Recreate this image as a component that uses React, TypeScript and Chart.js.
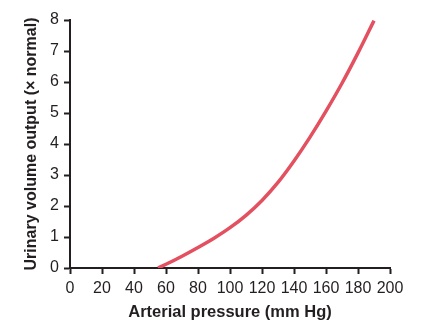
import React, { useEffect, useRef } from "react";
import { Chart, registerables } from "chart.js";

Chart.register(...registerables);

const pressure = [55, 60, 70, 80, 90, 100, 110, 120, 130, 140, 150, 160, 170, 180, 190];
const output = [0, 0.12, 0.38, 0.66, 0.96, 1.3, 1.7, 2.18, 2.76, 3.45, 4.22, 5.06, 5.96, 6.94, 7.98];

const xTitle = "Arterial pressure (mm Hg)";
const yTitle = "Urinary volume output (\u00d7 normal)";

export default function App() {
  const ref = useRef<HTMLCanvasElement>(null);
  useEffect(() => {
    if (!ref.current) return;
    const font = "'Liberation Sans', Arial, sans-serif";
    const chart = new Chart(ref.current, {
      type: "line",
      data: {
        datasets: [
          {
            data: pressure.map((p, i) => ({ x: p, y: output[i] })),
            borderColor: "#e3505f",
            borderWidth: 3.5,
            pointRadius: 0,
            tension: 0.4,
            fill: false,
          },
        ],
      },
      options: {
        animation: false,
        responsive: false,
        maintainAspectRatio: false,
        layout: { padding: { left: 18, right: 42, top: 20, bottom: 6 } },
        plugins: { legend: { display: false }, tooltip: { enabled: false } },
        scales: {
          x: {
            type: "linear",
            min: 0,
            max: 200,
            ticks: { stepSize: 20, color: "#231f20", font: { family: font, size: 16 }, padding: 5, maxRotation: 0 },
            grid: { display: true, drawOnChartArea: false, drawTicks: true, tickLength: 6, color: "#231f20", tickWidth: 2 },
            border: { display: true, color: "#231f20", width: 2 },
            title: { display: true, text: xTitle, color: "#231f20", font: { family: font, size: 16.5, weight: "bold" } },
            afterFit: (s: any) => { s.height = 58; },
          },
          y: {
            type: "linear",
            min: 0,
            max: 8,
            ticks: { stepSize: 1, color: "#231f20", font: { family: font, size: 16 }, padding: 5 },
            grid: { display: true, drawOnChartArea: false, drawTicks: true, tickLength: 6, color: "#231f20", tickWidth: 2 },
            border: { display: true, color: "#231f20", width: 2 },
            title: { display: true, text: yTitle, color: "#231f20", font: { family: font, size: 16, weight: "bold" } },
            afterFit: (s: any) => { s.width = 52; },
          },
        },
      },
    } as any);
    return () => chart.destroy();
  }, []);
  return (
    <div style={{ position: "fixed", left: 0, top: 0, width: 432, height: 332, background: "#fff" }}>
      <canvas ref={ref} width={432} height={332} style={{ width: 432, height: 332, display: "block" }} />
    </div>
  );
}
